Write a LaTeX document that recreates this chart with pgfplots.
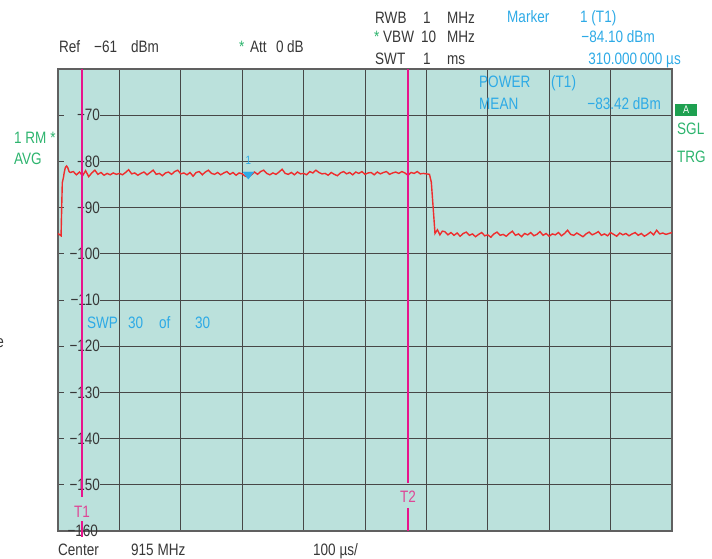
\documentclass[border=0pt]{standalone}
\usepackage{fontspec}
\setmainfont{Liberation Sans}[FakeStretch=0.82]
\usepackage{pgfplots}
\pgfplotsset{compat=1.18}
\definecolor{bg}{RGB}{187,225,220}
\definecolor{trace}{RGB}{238,45,45}
\definecolor{mag}{RGB}{232,20,140}
\definecolor{magT}{RGB}{222,70,150}
\definecolor{cyanT}{RGB}{45,170,230}
\definecolor{greenT}{RGB}{45,180,110}
\definecolor{greenA}{RGB}{30,160,80}
\definecolor{tgray}{RGB}{55,55,55}
\begin{document}
\fontsize{16.5}{19}\selectfont
\begin{tikzpicture}[x=1pt,y=1pt, every node/.style={inner sep=0pt, text=tgray}]
\useasboundingbox (0,0) rectangle (712,558);
\begin{axis}[at={(58pt,27pt)}, anchor=south west, scale only axis,
  width=614pt, height=462pt, clip=false,
  xmin=0, xmax=1000, ymin=-160, ymax=-60,
  xtick={0,100,...,1000}, ytick={-160,-150,...,-60},
  xticklabels={}, yticklabels={}, major tick length=0pt,
  grid=major, major grid style={draw=black!72, line width=0.8pt},
  axis background/.style={fill=bg},
  axis line style={draw=gray!75!black, line width=1.3pt}]
% y labels
\foreach \v in {-70,-80,-90,-100,-110,-120,-130,-140,-150}{
  \edef\temp{\noexpand\node[fill=bg, text width=36pt, align=right, minimum height=15pt, inner sep=0pt, text=tgray] at (axis cs:0,\v) [xshift=24pt] {\noexpand\textminus\the\numexpr-\v\relax};}
  \temp
}
\node[text width=36pt, align=right, inner sep=0pt, text=tgray] at (axis cs:0,-160) [xshift=22pt] {\textminus160};
% trace
\addplot[trace, line width=1.4pt] coordinates {
(0,-95.6)(2,-95.8)(5,-96.1)(6,-90.0)(7,-84.6)(9,-83.4)(10,-82.5)(12,-81.3)(14,-81.0)(16,-81.4)(18,-82.2)
(20,-82.4)(25,-82.2)(30,-82.9)(35,-82.3)(40,-83.1)(45,-82.0)(50,-83.3)(55,-82.5)(60,-81.9)(65,-82.8)
(70,-82.4)(75,-83.0)(80,-82.6)(85,-82.9)(90,-82.5)(95,-82.8)(100,-82.6)(105,-82.9)(110,-82.4)(115,-81.8)
(120,-82.7)(125,-82.5)(130,-83.0)(135,-82.6)(140,-82.3)(145,-82.9)(150,-82.4)(155,-81.9)(160,-82.8)
(165,-82.6)(170,-83.1)(175,-82.5)(180,-82.3)(185,-82.8)(190,-82.2)(195,-81.9)(200,-82.7)(205,-82.5)
(210,-82.9)(215,-82.4)(220,-83.2)(225,-82.4)(230,-82.2)(235,-82.9)(240,-82.3)(245,-81.9)(250,-82.6)
(255,-82.8)(260,-82.4)(265,-82.9)(270,-82.5)(275,-82.2)(280,-82.8)(285,-82.4)(290,-83.0)(295,-82.5)
(300,-82.7)(305,-83.2)(310,-83.4)(315,-82.9)(320,-82.3)(325,-82.8)(330,-82.2)(335,-81.9)(340,-82.6)
(345,-82.9)(350,-82.5)(355,-82.8)(360,-82.3)(365,-81.7)(370,-82.6)(375,-82.8)(380,-82.4)(385,-82.9)
(390,-82.3)(395,-82.7)(400,-82.6)(405,-82.9)(410,-82.2)(415,-82.5)(420,-81.9)(425,-82.4)(430,-82.7)
(435,-82.6)(440,-83.0)(445,-82.4)(450,-82.8)(455,-83.1)(460,-82.5)(465,-82.2)(470,-82.7)(475,-82.4)
(480,-82.9)(485,-82.3)(490,-82.6)(495,-82.2)(500,-82.8)(505,-82.5)(510,-82.4)(515,-82.9)(520,-82.3)
(525,-82.7)(530,-82.4)(535,-82.2)(540,-82.8)(545,-82.5)(550,-82.3)(555,-82.6)(560,-82.2)(565,-82.5)
(570,-83.0)(575,-82.4)(580,-82.6)(585,-82.2)(590,-82.7)(595,-82.6)(600,-82.7)(605,-82.8)(608,-84.5)
(611,-90.0)(614,-95.6)(618,-94.8)(622,-95.9)(626,-95.1)(630,-95.2)(635,-95.9)(640,-95.4)(645,-96.0)
(650,-95.5)(655,-96.2)(660,-95.6)(665,-95.3)(670,-96.0)(675,-95.7)(680,-96.3)(685,-95.8)(690,-95.4)
(695,-96.1)(700,-95.9)(705,-96.4)(710,-95.7)(715,-95.3)(720,-96.0)(725,-95.8)(730,-96.2)(735,-95.6)
(740,-95.1)(745,-96.0)(750,-95.7)(755,-96.3)(760,-95.6)(765,-95.9)(770,-95.4)(775,-96.1)(780,-95.8)
(785,-95.2)(790,-96.0)(795,-95.6)(800,-96.2)(805,-95.7)(810,-95.9)(815,-95.4)(820,-96.1)(825,-95.6)
(830,-94.9)(835,-95.8)(840,-96.0)(845,-95.5)(850,-95.9)(855,-96.3)(860,-95.7)(865,-95.3)(870,-95.9)
(875,-95.6)(880,-95.2)(885,-96.0)(890,-95.7)(895,-96.1)(900,-95.4)(905,-95.8)(910,-96.2)(915,-95.5)
(920,-95.9)(925,-95.6)(930,-96.1)(935,-95.7)(940,-95.4)(945,-96.0)(950,-95.6)(955,-96.2)(960,-95.8)
(965,-95.3)(970,-95.9)(975,-94.9)(980,-95.7)(985,-95.5)(990,-95.8)(995,-95.6)(1000,-95.4)
};
% marker lines T1, T2
\addplot[mag, line width=2pt] coordinates {(39,-60)(39,-152.7)};
\addplot[mag, line width=2pt] coordinates {(39,-157.9)(39,-161.2)};
\addplot[mag, line width=2pt] coordinates {(570,-60)(570,-149.6)};
\addplot[mag, line width=2pt] coordinates {(570,-155.0)(570,-160)};
% marker 1
\addplot[only marks, mark=triangle*, mark size=6.3pt, mark options={rotate=180, yscale=0.75, fill=cyanT, draw=cyanT}] coordinates {(310,-82.8)};
\node[anchor=base, text=cyanT, font=\fontsize{12}{13}\selectfont] at (axis cs:310,-80.6) {1};
\end{axis}
% header texts
\node[anchor=base west] at (59,505) {Ref};
\node[anchor=base west] at (94,505) {\textminus61};
\node[anchor=base west] at (131,505) {dBm};
\node[anchor=base west, text=greenT] at (239,505) {*};
\node[anchor=base west] at (250,505) {Att};
\node[anchor=base west] at (276,505) {0};
\node[anchor=base west] at (287,505) {dB};
\node[anchor=base west] at (375,534) {RWB};
\node[anchor=base west] at (423,534) {1};
\node[anchor=base west] at (447,534) {MHz};
\node[anchor=base west, text=greenT] at (374,515) {*};
\node[anchor=base west] at (383,515) {VBW};
\node[anchor=base west] at (421,515) {10};
\node[anchor=base west] at (447,515) {MHz};
\node[anchor=base west] at (375,493) {SWT};
\node[anchor=base west] at (423,493) {1};
\node[anchor=base west] at (447,493) {ms};
\node[anchor=base west, text=cyanT] at (507,535) {Marker};
\node[anchor=base west, text=cyanT] at (580,535) {1 (T1)};
\node[anchor=base east, text=cyanT] at (655,515) {\textminus84.10 dBm};
\node[anchor=base east, text=cyanT] at (681,493) {310.000\,000 µs};
\node[anchor=base west, text=cyanT] at (479,470) {POWER};
\node[anchor=base west, text=cyanT] at (551,470) {(T1)};
\node[anchor=base west, text=cyanT] at (479,448) {MEAN};
\node[anchor=base east, text=cyanT] at (661,448) {\textminus83.42 dBm};
\fill[greenA] (675,442) rectangle (697,454);
\node[text=white, font=\fontsize{11}{12}\selectfont] at (686,448) {A};
\node[anchor=base west, text=greenT] at (677,423) {SGL};
\node[anchor=base west, text=greenT] at (677,395) {TRG};
\node[anchor=base west, text=greenT] at (14,414) {1 RM *};
\node[anchor=base west, text=greenT] at (14,393) {AVG};
\node[anchor=base east] at (4,211) {e};
\node[anchor=base west, text=cyanT] at (87,230) {SWP};
\node[anchor=base west, text=cyanT] at (128,230) {30};
\node[anchor=base west, text=cyanT] at (159,230) {of};
\node[anchor=base west, text=cyanT] at (195,230) {30};
\node[anchor=base, text=magT] at (82,41) {T1};
\node[anchor=base, text=magT] at (408,56) {T2};
\node[anchor=base west] at (58,3) {Center};
\node[anchor=base west] at (131,3) {915 MHz};
\node[anchor=base west] at (313,3) {100 µs/};
\end{tikzpicture}
\end{document}
